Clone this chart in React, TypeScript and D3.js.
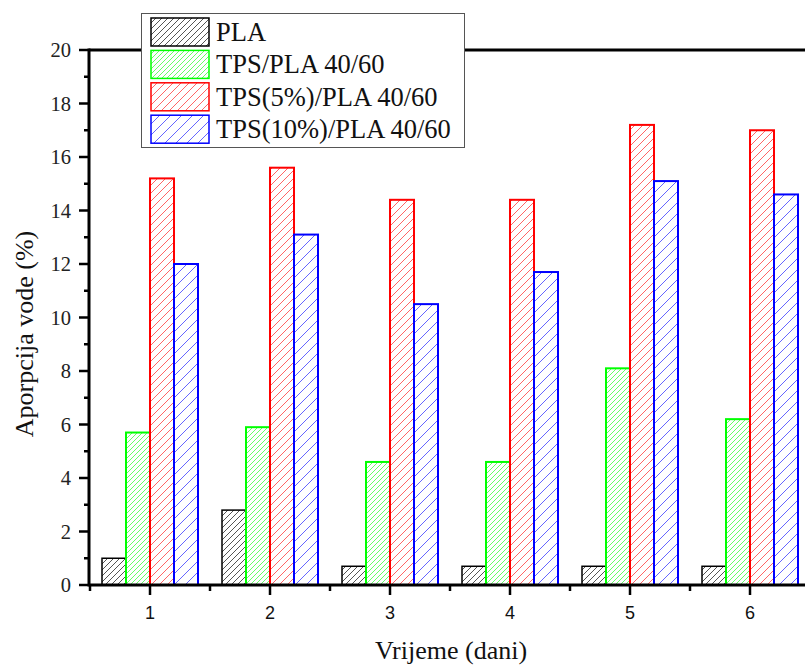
import React from "react";
import * as d3 from "d3";

const categories = [1, 2, 3, 4, 5, 6];
const seriesNames = ["PLA", "TPS/PLA 40/60", "TPS(5%)/PLA 40/60", "TPS(10%)/PLA 40/60"];
const plaValues = [1.0, 2.8, 0.7, 0.7, 0.7, 0.7];
const tpsPlaValues = [5.7, 5.9, 4.6, 4.6, 8.1, 6.2];
const tps5Values = [15.2, 15.6, 14.4, 14.4, 17.2, 17.0];
const tps10Values = [12.0, 13.1, 10.5, 11.7, 15.1, 14.6];
const yTicks = [0, 2, 4, 6, 8, 10, 12, 14, 16, 18, 20];
const yMinorTicks = [1, 3, 5, 7, 9, 11, 13, 15, 17, 19];
const xMinorTicks = [0.5, 1.5, 2.5, 3.5, 4.5, 5.5, 6.5];

const colors = ["#000000", "#00ff00", "#ff0000", "#0000ff"];
const hatchColors = ["#555555", "#66ff66", "#ff6666", "#6666ff"];
const hatchSize = [6, 5, 8, 11];

export default function App() {
  const W = 805, H = 666;
  const x = d3.scaleLinear().domain([0.5, 6.5]).range([90, 810]);
  const y = d3.scaleLinear().domain([0, 20]).range([585, 50]);
  const series = [plaValues, tpsPlaValues, tps5Values, tps10Values];
  const barW = x(1.2) - x(1); // 24
  const serif = "'Liberation Serif', 'Times New Roman', serif";
  const sans = "'Liberation Sans', Arial, sans-serif";

  return (
    <svg width={W} height={H} style={{ position: "absolute", left: 0, top: 0, background: "#fff" }}>
      <defs>
        {series.map((_, i) => {
          const s = hatchSize[i];
          return (
            <pattern key={i} id={`hatchpat${i}`} patternUnits="userSpaceOnUse" width={s} height={s}>
              <rect width={s} height={s} fill="#ffffff" />
              <path
                d={`M${-1},${s + 1} L${s + 1},${-1}`}
                stroke={hatchColors[i]}
                strokeWidth={1}
                fill="none"
                shapeRendering="crispEdges"
              />
            </pattern>
          );
        })}
      </defs>

      {/* bars */}
      {series.map((vals, si) =>
        vals.map((v, ci) => {
          const x0 = x(categories[ci]) - 2 * barW + si * barW;
          return (
            <rect
              key={`${si}-${ci}`}
              x={x0}
              y={y(v)}
              width={barW}
              height={y(0) - y(v)}
              fill={`url(#hatchpat${si})`}
              stroke={colors[si]}
              strokeWidth={si === 0 ? 1.5 : 2}
            />
          );
        })
      )}

      {/* axes */}
      <line x1={89} x2={810} y1={y(20)} y2={y(20)} stroke="#000" strokeWidth={3} />
      <line x1={89} x2={810} y1={y(0)} y2={y(0)} stroke="#000" strokeWidth={3} />
      <line x1={89} x2={89} y1={y(20) - 1.5} y2={y(0) + 1.5} stroke="#000" strokeWidth={3} />

      {yTicks.map((t) => (
        <g key={`yt${t}`}>
          <line x1={79} x2={89} y1={y(t)} y2={y(t)} stroke="#000" strokeWidth={2.5} />
          <text x={71} y={y(t)} dy="0.35em" textAnchor="end" fontFamily={serif} fontSize={20.5} fill="#222">
            {t}
          </text>
        </g>
      ))}
      {yMinorTicks.map((t) => (
        <line key={`ym${t}`} x1={84} x2={89} y1={y(t)} y2={y(t)} stroke="#000" strokeWidth={2.5} />
      ))}
      {categories.map((c) => (
        <g key={`xt${c}`}>
          <line x1={x(c)} x2={x(c)} y1={y(0)} y2={y(0) + 10} stroke="#000" strokeWidth={2.5} />
          <text x={x(c)} y={619} textAnchor="middle" fontFamily={sans} fontSize={18} fill="#111">
            {c}
          </text>
        </g>
      ))}
      {xMinorTicks.map((c) => (
        <line key={`xm${c}`} x1={x(c)} x2={x(c)} y1={y(0)} y2={y(0) + 6} stroke="#000" strokeWidth={2.5} />
      ))}

      {/* axis titles */}
      <text
        transform={`translate(33,334) rotate(-90)`}
        textAnchor="middle"
        fontFamily={serif}
        fontSize={26}
        fill="#111"
      >
        Aporpcija vode (%)
      </text>
      <text x={451} y={659} textAnchor="middle" fontFamily={serif} fontSize={26} fill="#111">
        Vrijeme (dani)
      </text>

      {/* legend */}
      <rect x={141.5} y={13.5} width={323} height={134} fill="#fff" stroke="#555" strokeWidth={1} />
      {seriesNames.map((name, i) => {
        const top = 18 + i * 32.4;
        return (
          <g key={name}>
            <rect x={151} y={top} width={58} height={28} fill={`url(#hatchpat${i})`} stroke={colors[i]} strokeWidth={1.5} />
            <text x={216} y={top + 23} fontFamily={serif} fontSize={26.5} fill="#111">
              {name}
            </text>
          </g>
        );
      })}
    </svg>
  );
}
